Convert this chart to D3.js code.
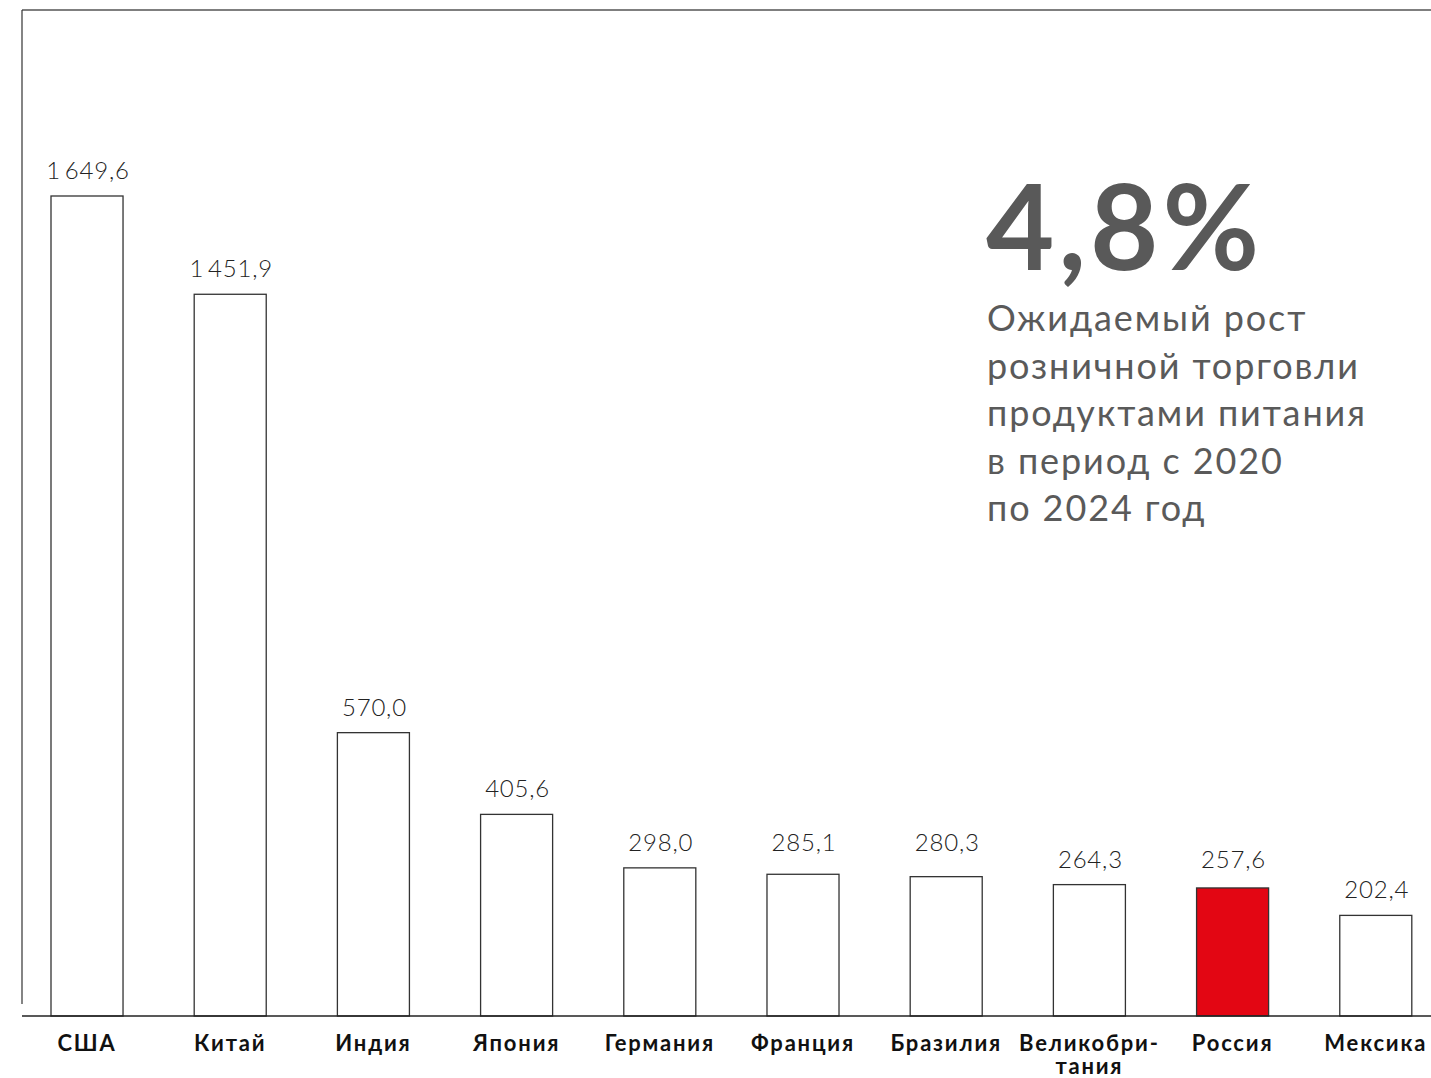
<!DOCTYPE html>
<html lang="ru">
<head>
<meta charset="utf-8">
<script src="https://cdn.jsdelivr.net/npm/d3@7"></script>
<style>
  html, body { margin: 0; padding: 0; background: #fff; }
  svg { display: block; }
  text { font-family: Lato, "Noto Sans", sans-serif; }
</style>
</head>
<body>
<svg id="chart" width="1431" height="1078"></svg>
<script>
// Retail food sales by country
const countries = ["США", "Китай", "Индия", "Япония", "Германия", "Франция", "Бразилия", "Великобритания", "Россия", "Мексика"];
const countryLabels = [["США"], ["Китай"], ["Индия"], ["Япония"], ["Германия"], ["Франция"], ["Бразилия"], ["Великобри-", "тания"], ["Россия"], ["Мексика"]];
const values = [1649.6, 1451.9, 570.0, 405.6, 298.0, 285.1, 280.3, 264.3, 257.6, 202.4];
const highlight = "Россия";
const headline = "4,8%";
const captionLines = ["Ожидаемый рост", "розничной торговли", "продуктами питания", "в период с 2020", "по 2024 год"];

const svg = d3.select("#chart");
const W = 1431;
const baseY = 1016, topY = 196, frameX = 22, frameY = 10;

const x = d3.scaleBand()
  .domain(countries)
  .range([15.2, 1447.6])
  .paddingInner(0.497)
  .paddingOuter(0.25);

const y = d3.scaleLinear()
  .domain([0, d3.max(values)])
  .range([baseY, topY]);

// "1 649,6" style: thin group separator, decimal comma
const fmt = v => d3.format(",.1f")(v).replace(/,/g, "\u2009").replace(".", ",");

// Frame: top rule and left rule
svg.append("line")
  .attr("x1", frameX).attr("x2", W).attr("y1", frameY).attr("y2", frameY)
  .attr("stroke", "#555").attr("stroke-width", 1.5);
svg.append("line")
  .attr("x1", frameX).attr("x2", frameX).attr("y1", frameY).attr("y2", 1004)
  .attr("stroke", "#333").attr("stroke-width", 1.2);

// Bars
svg.append("g").selectAll("rect")
  .data(countries)
  .join("rect")
  .attr("x", d => x(d))
  .attr("width", x.bandwidth())
  .attr("y", (d, i) => y(values[i]))
  .attr("height", (d, i) => baseY - y(values[i]))
  .attr("fill", d => d === highlight ? "#e30613" : "#fff")
  .attr("stroke", "#333")
  .attr("stroke-width", 1.3);

// Value labels: neighbouring bars of nearly equal height share one label line
const tops = values.map(v => y(v));
const labelY = tops.slice();
for (let i = 0; i < tops.length; ) {
  let j = i;
  while (j + 1 < tops.length && Math.abs(tops[j + 1] - tops[j]) < 7) j++;
  const m = d3.min(tops.slice(i, j + 1));
  for (let k = i; k <= j; k++) labelY[k] = m - 17;
  i = j + 1;
}

svg.append("g").selectAll("text")
  .data(countries)
  .join("text")
  .attr("x", d => x(d) + x.bandwidth() / 2 + 1)
  .attr("y", (d, i) => labelY[i])
  .attr("text-anchor", "middle")
  .attr("font-size", 24)
  .attr("font-weight", 300)
  .attr("letter-spacing", 0.8)
  .attr("fill", "#222")
  .text((d, i) => fmt(values[i]));

// Baseline
const axisG = svg.append("g")
  .attr("transform", `translate(0,${baseY})`)
  .call(d3.axisBottom(x).tickSize(0).tickFormat(""));
axisG.select(".domain").remove();
svg.append("line")
  .attr("x1", frameX).attr("x2", W).attr("y1", baseY).attr("y2", baseY)
  .attr("stroke", "#222").attr("stroke-width", 1.5);

// Category labels
const catG = svg.append("g").selectAll("text")
  .data(countries)
  .join("text")
  .attr("y", 1051)
  .attr("text-anchor", "middle")
  .attr("font-size", 22)
  .attr("font-weight", 700)
  .attr("letter-spacing", 1.8)
  .attr("fill", "#111");
catG.selectAll("tspan")
  .data((d, i) => countryLabels[i].map(t => ({ t, cx: x(d) + x.bandwidth() / 2 })))
  .join("tspan")
  .attr("x", d => d.cx)
  .attr("dy", (d, i) => i === 0 ? 0 : 23)
  .text(d => d.t);

// Headline figure and caption
svg.append("text")
  .attr("x", 986)
  .attr("y", 270)
  .attr("font-size", 118)
  .attr("font-weight", 700)
  .attr("letter-spacing", 4)
  .attr("fill", "#595959")
  .text(headline);

svg.append("g").selectAll("text")
  .data(captionLines)
  .join("text")
  .attr("x", 987)
  .attr("y", (d, i) => 331 + i * 47.5)
  .attr("font-size", 36)
  .attr("font-weight", 400)
  .attr("letter-spacing", 1.9)
  .attr("fill", "#5a5a5a")
  .text(d => d);
</script>
</body>
</html>
